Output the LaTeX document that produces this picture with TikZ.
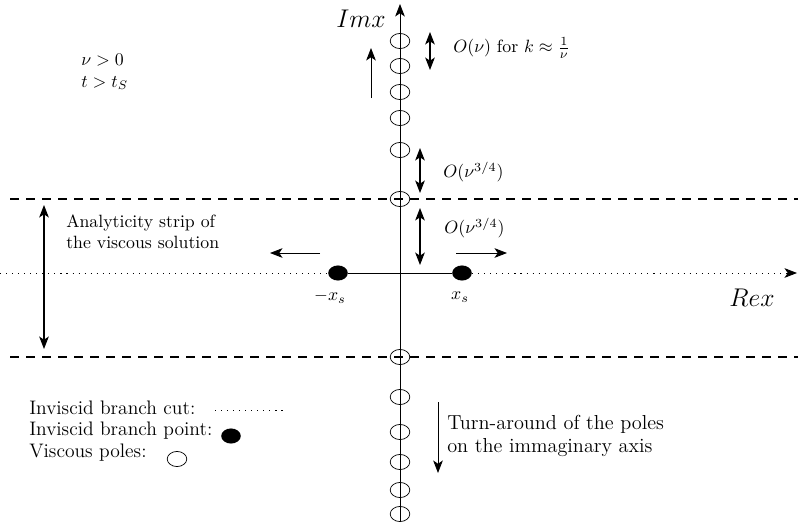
\documentclass[tikz,border=0pt]{standalone}
\usepackage{amsmath,amssymb}
\usetikzlibrary{arrows.meta,shapes.geometric}

\begin{document}
\begin{tikzpicture}[x=0.5625pt,y=-0.5625pt,>={Stealth[length=7pt,width=5.4pt,inset=1.8pt]},
  pole/.style={draw,ellipse,inner sep=0pt,minimum width=11pt,minimum height=8.5pt},
  bpt/.style={fill,ellipse,inner sep=0pt,minimum width=11pt,minimum height=8.5pt},
  cut/.style={line width=.5pt,dash pattern=on .6pt off 2.8pt},
  strip/.style={line width=.6pt,dash pattern=on 5pt off 4pt},
  axlabel/.style={font=\fontsize{14}{16}\selectfont},
  legtext/.style={anchor=west,font=\fontsize{11}{13}\selectfont}]
\useasboundingbox (0,0) rectangle (798,522);
% axes
\coordinate (ybot) at (400,522);
\coordinate (ytop) at (400,4);
\coordinate (xl) at (0,273);
\coordinate (xr) at (797,273);
\draw[->,line width=.5pt] (ybot)--(ytop);
\node (bl) [bpt] at (338,273) {};
\node (br) [bpt] at (462,273) {};
\draw[cut] (xl)--(bl);
\draw[cut,->] (br)--(xr);
\draw[line width=.5pt] (bl)--(br);
\node (imx) [axlabel] at (361,19) {$Imx$};
\node (rex) [axlabel] at (752,298) {$Rex$};
\node (mxs) at (330,297) {$-x_s$};
\node (xs) at (460,297) {$x_s$};
% strip
\coordinate (s1l) at (10,199); \coordinate (s1r) at (798,199);
\coordinate (s2l) at (10,357); \coordinate (s2r) at (798,357);
\draw[strip] (s1l)--(s1r);
\draw[strip] (s2l)--(s2r);
% poles
\node (p1) [pole] at (400,41) {};
\node (p2) [pole] at (400,66) {};
\node (p3) [pole] at (400,92) {};
\node (p4) [pole] at (400,118) {};
\node (p5) [pole] at (400,150) {};
\node (p6) [pole] at (400,199) {};
\node (q1) [pole] at (400,357) {};
\node (q2) [pole] at (400,397) {};
\node (q3) [pole] at (400,432) {};
\node (q4) [pole] at (400,462) {};
\node (q5) [pole] at (400,490) {};
\node (q6) [pole] at (400,514) {};
% arrows
\coordinate (u1) at (371,98); \coordinate (u2) at (371,48);
\draw[->,line width=.5pt] (u1)--(u2);
\coordinate (a1) at (430,32); \coordinate (a2) at (430,70);
\draw[<->,line width=.6pt] (a1)--(a2);
\coordinate (b1) at (420,148); \coordinate (b2) at (420,193);
\draw[<->,line width=.6pt] (b1)--(b2);
\coordinate (c1) at (420,208); \coordinate (c2) at (420,265);
\draw[<->,line width=.6pt] (c1)--(c2);
\coordinate (r1) at (456,253); \coordinate (r2) at (507,253);
\draw[->,line width=.5pt] (r1)--(r2);
\coordinate (l1) at (320,253); \coordinate (l2) at (270,253);
\draw[->,line width=.5pt] (l1)--(l2);
\coordinate (w1) at (44,205); \coordinate (w2) at (44,349);
\draw[<->,line width=.6pt] (w1)--(w2);
\coordinate (d1) at (438,402); \coordinate (d2) at (438,473);
\draw[->,line width=.5pt] (d1)--(d2);
% labels
\node (onu) [anchor=west] at (447,48) {$O(\nu)$ for $k\approx\frac{1}{\nu}$};
\node (o34a) [anchor=west] at (437,172) {$O(\nu^{3/4})$};
\node (o34b) [anchor=west] at (438,228) {$O(\nu^{3/4})$};
\node (par) [anchor=west,align=left] at (75,72) {$\nu>0$\\$t>t_S$};
\node (anl) [anchor=west,align=left] at (60,232) {Analyticity strip of\\the viscous solution};
\node (turn) [anchor=west,align=left,font=\fontsize{11.4}{12.5}\selectfont] at (441,436) {Turn-around of the poles\\on the immaginary axis};
% legend
\node (lg1) [legtext] at (23,408) {Inviscid branch cut:};
\node (lg2) [legtext] at (23,431) {Inviscid branch point:};
\node (lg3) [legtext] at (23,453) {Viscous poles:};
\coordinate (lc1) at (215,410); \coordinate (lc2) at (285,410);
\draw[cut] (lc1)--(lc2);
\node (lb) [bpt] at (231,436) {};
\node (lp) [pole] at (177,459) {};
\end{tikzpicture}
\end{document}
